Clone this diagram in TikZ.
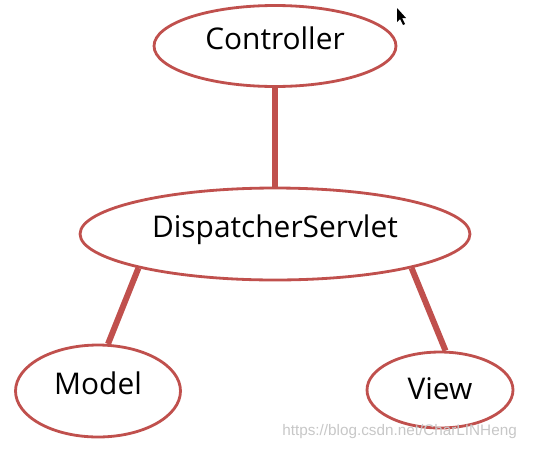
\documentclass[tikz,border=0pt]{standalone}
\usepackage{fontspec}
\setmainfont{Open Sans}
\usetikzlibrary{shapes.geometric}
\definecolor{mvcred}{RGB}{192,80,77}
\begin{document}
\begin{tikzpicture}[x=0.02cm, y=-0.02cm,
    part/.style={ellipse, draw=mvcred, line width=1.6pt, fill=white, inner sep=0pt,
        font=\fontsize{17}{20}\selectfont, text depth=0.3cm},
    link/.style={mvcred, line width=3.4pt}]
        \useasboundingbox (0,0) rectangle (533,450);

        % Ellipses
        \node[part, minimum width=4.84cm, minimum height=1.62cm] (controller) at (275,46) {Controller};
        \node[part, minimum width=7.8cm, minimum height=1.84cm] (dispatcher) at (275,234) {DispatcherServlet};
        \node[part, minimum width=3.3cm, minimum height=1.84cm] (model) at (98,391) {Model};
        \node[part, minimum width=2.92cm, minimum height=1.52cm, text depth=0.05cm] (view) at (440,390) {View};

        % Links
        \draw[link] (controller.south) -- (dispatcher.north);
        \draw[link] (dispatcher.194) -- (model.78);
        \draw[link] (dispatcher.346) -- (view.82);

        % Watermark
        \node[font=\fontsize{8.7}{10}\selectfont\fontspec{Liberation Sans}, black!22, anchor=east] (mark) at (523,432) {https://blog.csdn.net/CharLINHeng};

        % Mouse pointer
        \fill[black] (397,8) -- (397,22) -- (400,19) -- (403,25) -- (405,24) -- (402,18) -- (406,18) -- cycle;
    \end{tikzpicture}
\end{document}
